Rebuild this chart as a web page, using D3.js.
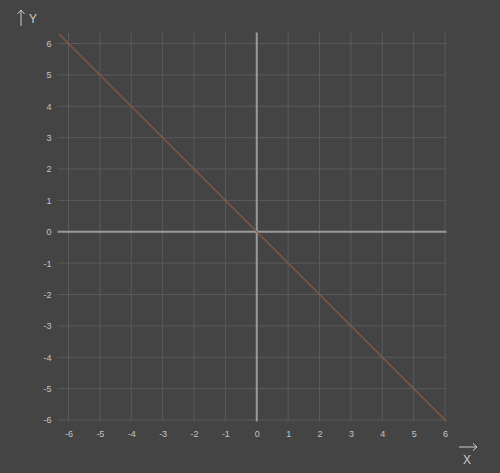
<!DOCTYPE html>
<html>
<head>
<meta charset="utf-8">
<script src="https://cdn.jsdelivr.net/npm/d3@7"></script>
<style>
  html, body { margin: 0; padding: 0; background: #444444; }
  svg { display: block; }
  text { font-family: "Liberation Sans", Arial, sans-serif; }
</style>
</head>
<body>
<svg id="chart"></svg>
<script>
const width = 500;
const height = 473;

// tick values on both axes
const ticks = [-6, -5, -4, -3, -2, -1, 0, 1, 2, 3, 4, 5, 6];
// the plotted line y = -x, endpoints
const lineX = [-6.3, 6.05];
const lineY = [6.3, -6.05];

const domain = [-6.35, 6.05];

const svg = d3
  .select("#chart")
  .attr("width", width)
  .attr("height", height);

svg.append("rect")
  .attr("width", width)
  .attr("height", height)
  .attr("fill", "#444444");

const xScale = d3.scaleLinear().domain([-6, 6]).range([68.5, 445]);
const yScale = d3.scaleLinear().domain([-6, 6]).range([420, 43.5]);

const xMin = xScale(domain[0]), xMax = xScale(domain[1]);
const yTop = yScale(-domain[0]), yBottom = yScale(-domain[1]);

/**
 * grid
 */
const grid = svg.append("g").attr("class", "grid");

grid.selectAll("line.v")
  .data(ticks.filter((t) => t !== 0))
  .enter()
  .append("line")
  .attr("class", "v")
  .attr("x1", (d) => xScale(d))
  .attr("x2", (d) => xScale(d))
  .attr("y1", yTop)
  .attr("y2", yBottom)
  .attr("stroke", "#5a5a5a")
  .attr("stroke-width", 1);

grid.selectAll("line.h")
  .data(ticks.filter((t) => t !== 0))
  .enter()
  .append("line")
  .attr("class", "h")
  .attr("x1", xMin)
  .attr("x2", xMax)
  .attr("y1", (d) => yScale(d))
  .attr("y2", (d) => yScale(d))
  .attr("stroke", "#5a5a5a")
  .attr("stroke-width", 1);

/**
 * main axes through the origin
 */
svg.append("line")
  .attr("x1", xScale(0)).attr("x2", xScale(0))
  .attr("y1", yTop).attr("y2", yBottom)
  .attr("stroke", "#9a9a9a").attr("stroke-width", 2);

svg.append("line")
  .attr("x1", xMin).attr("x2", xMax)
  .attr("y1", yScale(0)).attr("y2", yScale(0))
  .attr("stroke", "#9a9a9a").attr("stroke-width", 2);

/**
 * tick labels
 */
const xAxis = d3.axisBottom(xScale)
  .tickValues(ticks)
  .tickSize(0)
  .tickPadding(0)
  .tickFormat((d) => String(d).replace("\u2212", "-"));

svg.append("g")
  .attr("transform", `translate(0, ${yBottom + 9})`)
  .call(xAxis)
  .call((g) => g.select(".domain").remove())
  .call((g) => g.selectAll("text")
    .attr("fill", "#c4c4c4")
    .attr("font-size", 9)
    .style("font-family", "Liberation Sans, Arial, sans-serif"));

const yAxis = d3.axisLeft(yScale)
  .tickValues(ticks)
  .tickSize(0)
  .tickPadding(0)
  .tickFormat((d) => String(d).replace("\u2212", "-"));

svg.append("g")
  .attr("transform", `translate(${xMin - 6}, 0)`)
  .call(yAxis)
  .call((g) => g.select(".domain").remove())
  .call((g) => g.selectAll("text")
    .attr("fill", "#c4c4c4")
    .attr("font-size", 9)
    .style("font-family", "Liberation Sans, Arial, sans-serif"));

/**
 * the function line
 */
const line = d3.line()
  .x((d) => xScale(d[0]))
  .y((d) => yScale(d[1]));

svg.append("path")
  .datum(d3.zip(lineX, lineY))
  .attr("d", line)
  .attr("fill", "none")
  .attr("stroke", "#8c5a3e")
  .attr("stroke-width", 1.3);

/**
 * axis names with arrows
 */
svg.append("line")
  .attr("x1", 21).attr("x2", 21)
  .attr("y1", 26).attr("y2", 10)
  .attr("stroke", "#cccccc").attr("stroke-width", 1);
svg.append("path")
  .attr("d", "M17.5,14 L21,10 L24.5,14")
  .attr("fill", "none").attr("stroke", "#cccccc").attr("stroke-width", 1);
svg.append("text")
  .attr("x", 29).attr("y", 23)
  .attr("fill", "#cccccc")
  .attr("font-size", 12)
  .text("Y");

svg.append("line")
  .attr("x1", 459).attr("x2", 477)
  .attr("y1", 447).attr("y2", 447)
  .attr("stroke", "#cccccc").attr("stroke-width", 1);
svg.append("path")
  .attr("d", "M473,443.5 L477,447 L473,450.5")
  .attr("fill", "none").attr("stroke", "#cccccc").attr("stroke-width", 1);
svg.append("text")
  .attr("x", 467).attr("y", 464)
  .attr("text-anchor", "middle")
  .attr("fill", "#cccccc")
  .attr("font-size", 12)
  .text("X");
</script>
</body>
</html>
